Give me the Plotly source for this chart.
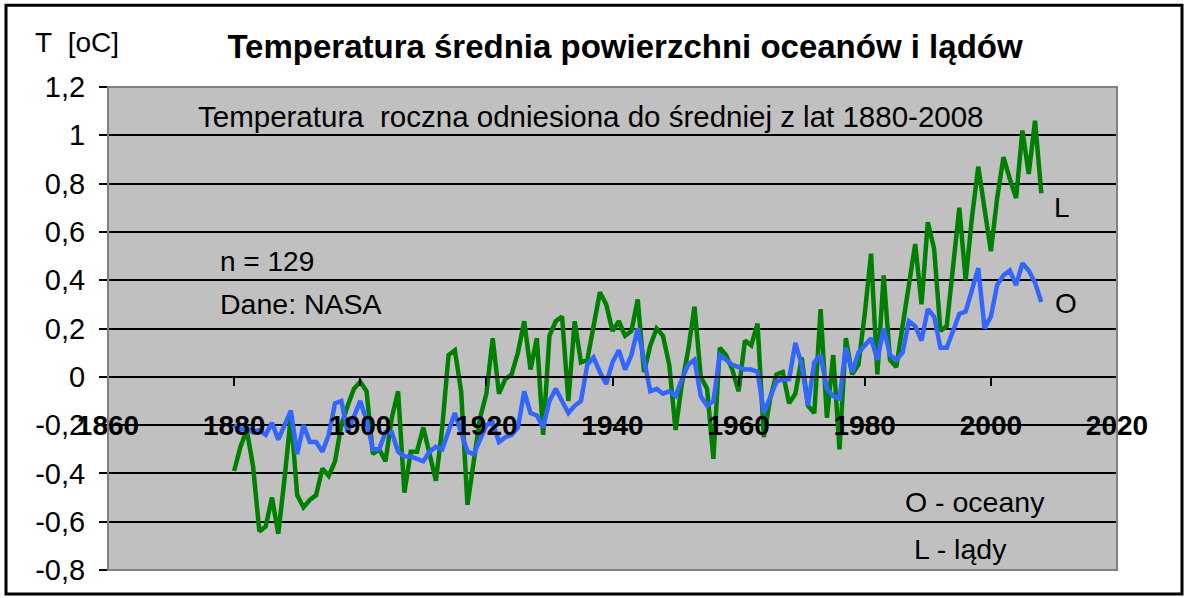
import plotly.graph_objects as go

years = list(range(1880, 2009))

land = [
    -0.39, -0.29, -0.22, -0.37, -0.64, -0.62, -0.50, -0.65, -0.42, -0.16,
    -0.49, -0.54, -0.51, -0.49, -0.38, -0.41, -0.35, -0.20, -0.12, -0.05,
    -0.02, -0.06, -0.32, -0.30, -0.35, -0.17, -0.06, -0.48, -0.31, -0.31,
    -0.21, -0.32, -0.43, -0.21, 0.09, 0.11, -0.06, -0.53, -0.36, -0.17,
    -0.07, 0.16, -0.07, -0.01, 0.01, 0.10, 0.23, 0.03, 0.16, -0.24,
    0.17, 0.23, 0.25, -0.10, 0.23, 0.06, 0.07, 0.20, 0.35, 0.30,
    0.19, 0.23, 0.17, 0.19, 0.32, 0.02, 0.13, 0.20, 0.17, 0.05,
    -0.22, -0.03, 0.11, 0.29, 0.00, -0.05, -0.34, 0.12, 0.09, 0.03,
    -0.06, 0.15, 0.13, 0.22, -0.25, -0.09, 0.01, 0.02, -0.11, -0.07,
    0.08, -0.12, -0.15, 0.28, -0.17, 0.09, -0.30, 0.16, 0.01, 0.05,
    0.26, 0.51, 0.01, 0.42, 0.07, 0.04, 0.21, 0.38, 0.55, 0.30,
    0.64, 0.53, 0.19, 0.21, 0.45, 0.70, 0.40, 0.66, 0.87, 0.68,
    0.52, 0.74, 0.91, 0.82, 0.74, 1.02, 0.84, 1.06, 0.76,
]

ocean = [
    -0.20, -0.22, -0.21, -0.23, -0.22, -0.24, -0.19, -0.26, -0.20, -0.14,
    -0.32, -0.20, -0.27, -0.27, -0.31, -0.24, -0.11, -0.10, -0.23, -0.16,
    -0.10, -0.18, -0.30, -0.30, -0.23, -0.23, -0.31, -0.33, -0.33, -0.34,
    -0.35, -0.31, -0.29, -0.30, -0.22, -0.15, -0.23, -0.31, -0.32, -0.26,
    -0.20, -0.19, -0.27, -0.25, -0.24, -0.21, -0.06, -0.15, -0.16, -0.21,
    -0.10, -0.05, -0.10, -0.15, -0.12, -0.10, 0.05, 0.08, 0.02, -0.03,
    0.06, 0.11, 0.03, 0.09, 0.20, 0.07, -0.06, -0.05, -0.07, -0.06,
    -0.08, -0.01, 0.05, 0.07, -0.08, -0.12, -0.10, 0.09, 0.07, 0.05,
    0.04, 0.03, 0.03, 0.02, -0.15, -0.08, -0.02, -0.01, -0.01, 0.14,
    0.05, -0.12, 0.06, 0.09, -0.05, -0.08, -0.09, 0.12, 0.02, 0.10,
    0.13, 0.16, 0.07, 0.20, 0.09, 0.07, 0.10, 0.23, 0.21, 0.15,
    0.28, 0.25, 0.12, 0.12, 0.19, 0.26, 0.27, 0.36, 0.45, 0.20,
    0.25, 0.38, 0.42, 0.44, 0.38, 0.47, 0.44, 0.39, 0.31,
]

x_ticks = [1860, 1880, 1900, 1920, 1940, 1960, 1980, 2000, 2020]
x_tick_labels = [str(v) for v in x_ticks]
y_ticks = [-0.8, -0.6, -0.4, -0.2, 0, 0.2, 0.4, 0.6, 0.8, 1.0, 1.2]
y_tick_labels = ["-0,8", "-0,6", "-0,4", "-0,2", "0", "0,2", "0,4", "0,6", "0,8", "1", "1,2"]

FONT = "Liberation Sans, Arial, sans-serif"
W, H = 1185, 598
L_PX, R_PX, T_PX, B_PX = 108, 1117, 87, 572


def px(xp):
    return (xp - L_PX) / (R_PX - L_PX)


def py(yp):
    return (B_PX - yp) / (B_PX - T_PX)


fig = go.Figure()
fig.add_trace(go.Scatter(x=years, y=land, mode="lines", name="L",
                         line=dict(color="#008000", width=4.5), hoverinfo="skip"))
fig.add_trace(go.Scatter(x=years, y=ocean, mode="lines", name="O",
                         line=dict(color="#3366FF", width=4.5), hoverinfo="skip"))

fig.update_layout(
    width=W, height=H,
    margin=dict(l=L_PX, r=W - R_PX, t=T_PX, b=H - B_PX, pad=0),
    paper_bgcolor="white",
    plot_bgcolor="#C0C0C0",
    showlegend=False,
    font=dict(family=FONT, color="black", size=28),
    title=dict(text="Temperatura średnia powierzchni oceanów i lądów",
               font=dict(family=FONT, size=33, weight="bold", color="black"),
               x=px(625), xanchor="center", xref="paper",
               y=1 - 46 / H, yanchor="middle", yref="container"),
    xaxis=dict(range=[1860, 2020], tickvals=x_ticks, ticktext=x_tick_labels,
               anchor="free", position=0.4, showgrid=False, zeroline=False,
               showline=True, linecolor="black", linewidth=2,
               ticks="outside", ticklen=8, tickwidth=2, tickcolor="black",
               ticklabelstandoff=16,
               tickfont=dict(family=FONT, size=28, weight="bold", color="black")),
    yaxis=dict(range=[-0.8, 1.2], tickvals=y_ticks, ticktext=y_tick_labels,
               showgrid=True, gridcolor="black", gridwidth=2, zeroline=False,
               showline=False, ticks="outside", ticklen=8, tickwidth=2,
               tickcolor="black", ticklabelstandoff=8,
               tickfont=dict(family=FONT, size=29, color="black")),
)

# plot-area border (grey) and outer frame (black)
fig.add_shape(type="rect", xref="paper", yref="paper", x0=0, x1=1, y0=0, y1=1,
              line=dict(color="#808080", width=2), layer="above")
fig.add_shape(type="rect", xref="paper", yref="paper",
              x0=px(6), x1=px(1182), y0=py(596), y1=py(5),
              line=dict(color="black", width=3), layer="above")

annots = [
    ("T\u00a0 [oC]", 33, 42, "left", 28),
    ("Temperatura\u00a0 roczna odniesiona do średniej z lat 1880-2008", 196, 117, "left", 29.5),
    ("n = 129", 218, 262, "left", 28),
    ("Dane: NASA", 218, 305, "left", 28.5),
    ("L", 1052, 208, "left", 28),
    ("O", 1053, 304, "left", 28),
    ("O - oceany", 903, 504, "left", 28.5),
    ("L - lądy", 912, 551, "left", 28.5),
]
for text, x0, y0, anchor, size in annots:
    fig.add_annotation(text=text, x=px(x0), y=py(y0), xref="paper", yref="paper",
                       xanchor=anchor, yanchor="middle", showarrow=False,
                       font=dict(family=FONT, size=size, color="black"))

fig.write_html("out.html", config={"displayModeBar": False},
               post_script="document.body.style.margin='0';document.body.style.overflow='hidden';")
